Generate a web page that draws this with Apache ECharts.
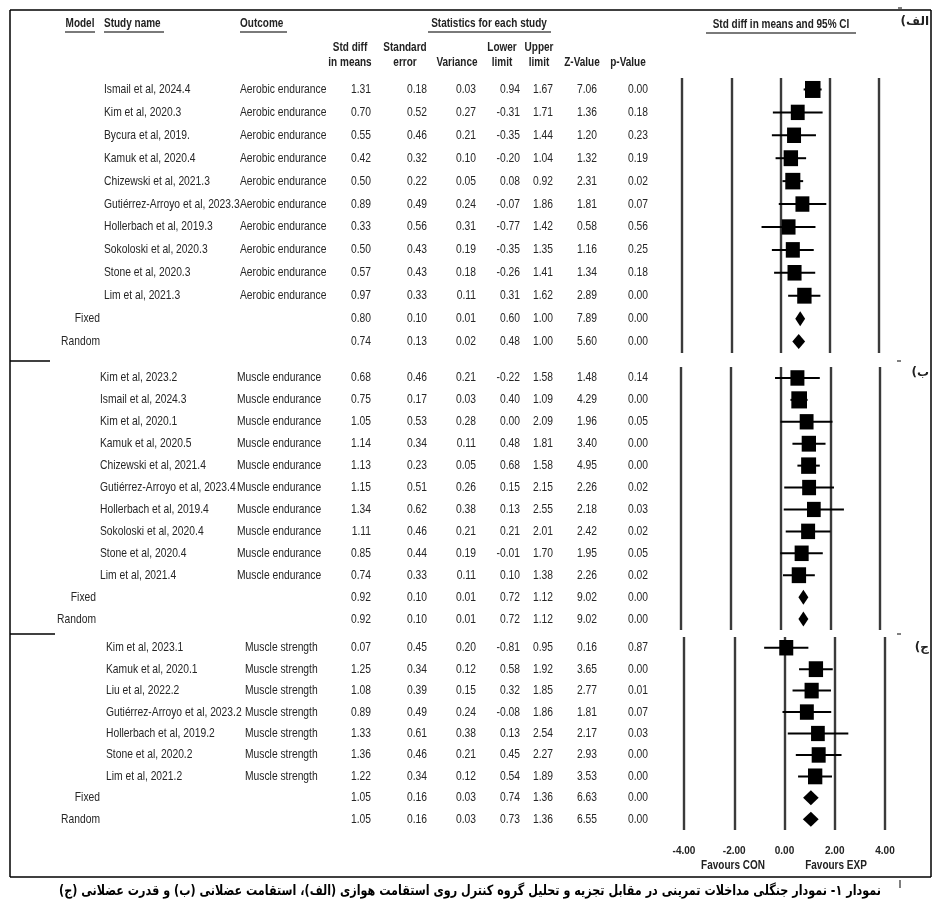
<!DOCTYPE html>
<html><head><meta charset="utf-8">
<script src="https://cdn.jsdelivr.net/npm/echarts@6/dist/echarts.min.js"></script>
<style>html,body{margin:0;padding:0;background:#fff}#c{width:947px;height:908px}</style>
</head><body><div id="c"></div>
<script>
// ---------- DATA ----------
const modelNames = ['Fixed', 'Random'];

// Panel (الف) Aerobic endurance
const studiesA = ['Ismail et al, 2024.4','Kim et al, 2020.3','Bycura et al, 2019.','Kamuk et al, 2020.4','Chizewski et al, 2021.3','Gutiérrez-Arroyo et al, 2023.3','Hollerbach et al, 2019.3','Sokoloski et al, 2020.3','Stone et al, 2020.3','Lim et al, 2021.3'];
const outcomeA = 'Aerobic endurance';
const smdA = [1.31,0.70,0.55,0.42,0.50,0.89,0.33,0.50,0.57,0.97, 0.80,0.74];
const seA  = [0.18,0.52,0.46,0.32,0.22,0.49,0.56,0.43,0.43,0.33, 0.10,0.13];
const varA = [0.03,0.27,0.21,0.10,0.05,0.24,0.31,0.19,0.18,0.11, 0.01,0.02];
const lowA = [0.94,-0.31,-0.35,-0.20,0.08,-0.07,-0.77,-0.35,-0.26,0.31, 0.60,0.48];
const upA  = [1.67,1.71,1.44,1.04,0.92,1.86,1.42,1.35,1.41,1.62, 1.00,1.00];
const zA   = [7.06,1.36,1.20,1.32,2.31,1.81,0.58,1.16,1.34,2.89, 7.89,5.60];
const pA   = [0.00,0.18,0.23,0.19,0.02,0.07,0.56,0.25,0.18,0.00, 0.00,0.00];

// Panel (ب) Muscle endurance
const studiesB = ['Kim et al, 2023.2','Ismail et al, 2024.3','Kim et al, 2020.1','Kamuk et al, 2020.5','Chizewski et al, 2021.4','Gutiérrez-Arroyo et al, 2023.4','Hollerbach et al, 2019.4','Sokoloski et al, 2020.4','Stone et al, 2020.4','Lim et al, 2021.4'];
const outcomeB = 'Muscle endurance';
const smdB = [0.68,0.75,1.05,1.14,1.13,1.15,1.34,1.11,0.85,0.74, 0.92,0.92];
const seB  = [0.46,0.17,0.53,0.34,0.23,0.51,0.62,0.46,0.44,0.33, 0.10,0.10];
const varB = [0.21,0.03,0.28,0.11,0.05,0.26,0.38,0.21,0.19,0.11, 0.01,0.01];
const lowB = [-0.22,0.40,0.00,0.48,0.68,0.15,0.13,0.21,-0.01,0.10, 0.72,0.72];
const upB  = [1.58,1.09,2.09,1.81,1.58,2.15,2.55,2.01,1.70,1.38, 1.12,1.12];
const zB   = [1.48,4.29,1.96,3.40,4.95,2.26,2.18,2.42,1.95,2.26, 9.02,9.02];
const pB   = [0.14,0.00,0.05,0.00,0.00,0.02,0.03,0.02,0.05,0.02, 0.00,0.00];

// Panel (ج) Muscle strength
const studiesC = ['Kim et al, 2023.1','Kamuk et al, 2020.1','Liu et al, 2022.2','Gutiérrez-Arroyo et al, 2023.2','Hollerbach et al, 2019.2','Stone et al, 2020.2','Lim et al, 2021.2'];
const outcomeC = 'Muscle strength';
const smdC = [0.07,1.25,1.08,0.89,1.33,1.36,1.22, 1.05,1.05];
const seC  = [0.45,0.34,0.39,0.49,0.61,0.46,0.34, 0.16,0.16];
const varC = [0.20,0.12,0.15,0.24,0.38,0.21,0.12, 0.03,0.03];
const lowC = [-0.81,0.58,0.32,-0.08,0.13,0.45,0.54, 0.74,0.73];
const upC  = [0.95,1.92,1.85,1.86,2.54,2.27,1.89, 1.36,1.36];
const zC   = [0.16,3.65,2.77,1.81,2.17,2.93,3.53, 6.63,6.55];
const pC   = [0.87,0.00,0.01,0.07,0.03,0.00,0.00, 0.00,0.00];

const axisTicks = [-4, -2, 0, 2, 4];
const favourLabels = ['Favours CON', 'Favours EXP'];
const panelLabels = ['(الف', '(ب', '(ج'];
const headerTop = ['Model', 'Study name', 'Outcome', 'Statistics for each study', 'Std diff in means and 95% CI'];
const subHeaders = [['Std diff','in means'],['Standard','error'],['','Variance'],['Lower','limit'],['Upper','limit'],['','Z-Value'],['','p-Value']];
const caption = 'نمودار ۱- نمودار جنگلی مداخلات تمرینی در مقابل تجزیه و تحلیل گروه کنترل روی استقامت هوازی (الف)، استقامت عضلانی (ب) و قدرت عضلانی (ج)';

// ---------- FONTS ----------
const FAM = "'Liberation Sans', Arial, sans-serif";
const BODY = 10.3;
const HEAD = 10;
const SY = 1.22;          // vertical stretch of the table text
const TXT = '#262626';

// ---------- LAYOUT ----------
const cols = [371, 427, 476, 520, 553, 597, 648];   // right edges of number columns
const headCenters = [350, 405, 457, 502, 539, 582, 628];

const panels = [
  {names: studiesA, outcome: outcomeA, vals: [smdA, seA, varA, lowA, upA, zA, pA], top: 78, height: 275, fl: 682, fr: 879, nameX: 104, outX: 240, modelX: 100, labelY: 22},
  {names: studiesB, outcome: outcomeB, vals: [smdB, seB, varB, lowB, upB, zB, pB], top: 367, height: 263, fl: 681, fr: 880, nameX: 100, outX: 237, modelX: 96, labelY: 373},
  {names: studiesC, outcome: outcomeC, vals: [smdC, seC, varC, lowC, upC, zC, pC], top: 637, height: 193, fl: 684, fr: 885, nameX: 106, outX: 245, modelX: 100, labelY: 648}
];

const W = 947;
const grid = [], xAxis = [], yAxis = [], series = [];

function txt(x, y, text, align){
  return {type: 'text', x: x, y: y, scaleY: SY, style: {text: text, align: align, verticalAlign: 'middle', fontFamily: FAM, fontSize: BODY, fill: TXT}};
}

panels.forEach((P, k) => {
  const rows = P.names.concat(modelNames);
  const nS = P.names.length;
  // table grid
  grid.push({left: 0, right: 0, top: P.top, height: P.height});
  xAxis.push({gridIndex: 2*k, type: 'value', min: 0, max: W, show: false});
  yAxis.push({gridIndex: 2*k, type: 'category', data: rows, inverse: true, show: false});
  // forest grid
  grid.push({left: P.fl, width: P.fr - P.fl, top: P.top, height: P.height});
  const last = k === panels.length - 1;
  xAxis.push({gridIndex: 2*k+1, type: 'value', min: axisTicks[0], max: axisTicks[axisTicks.length-1], interval: 2,
    axisLine: {show: false}, axisTick: {show: false},
    splitLine: {show: true, lineStyle: {color: '#3a3a3a', width: 2.4}},
    axisLabel: {show: last, margin: 16, fontFamily: FAM, fontWeight: 'bold', fontSize: HEAD, color: '#222', formatter: v => v.toFixed(2)}
  });
  yAxis.push({gridIndex: 2*k+1, type: 'category', data: rows, inverse: true, show: false});

  // table text
  series.push({
    type: 'custom', xAxisIndex: 2*k, yAxisIndex: 2*k, silent: true,
    data: rows.map((r, i) => [0, i]), encode: {x: 0, y: 1},
    renderItem: (params, api) => {
      const i = params.dataIndex;
      const y = api.coord([0, i])[1];
      const kids = [];
      if (i < nS) {
        kids.push(txt(api.coord([P.nameX, i])[0], y, P.names[i], 'left'));
        kids.push(txt(api.coord([P.outX, i])[0], y, P.outcome, 'left'));
      } else {
        kids.push(txt(api.coord([P.modelX, i])[0], y, modelNames[i - nS], 'right'));
      }
      P.vals.forEach((arr, c) => {
        kids.push(txt(api.coord([cols[c], i])[0], y, arr[i].toFixed(2), 'right'));
      });
      return {type: 'group', children: kids};
    }
  });

  // forest marks
  const [smd, se, , lo, up] = P.vals;
  series.push({
    type: 'custom', xAxisIndex: 2*k+1, yAxisIndex: 2*k+1, silent: true,
    data: smd.map((v, i) => [lo[i], up[i], v, i, se[i]]), encode: {x: [0, 1, 2], y: 3},
    renderItem: (params, api) => {
      const i = params.dataIndex;
      const a = api.coord([api.value(0), i]);
      const b = api.coord([api.value(1), i]);
      const c = api.coord([api.value(2), i]);
      if (i < nS) {
        const w = Math.min(16.5, 13 + 0.45 / api.value(4));
        const h = w + 1.5;
        return {type: 'group', children: [
          {type: 'line', shape: {x1: a[0], y1: a[1], x2: b[0], y2: b[1]}, style: {stroke: '#000', lineWidth: 2}},
          {type: 'rect', shape: {x: c[0] - w/2, y: c[1] - h/2, width: w, height: h}, style: {fill: '#000'}}
        ]};
      }
      const hh = 7.5;
      return {type: 'polygon', shape: {points: [[a[0], a[1]], [c[0], c[1] - hh], [b[0], b[1]], [c[0], c[1] + hh]]}, style: {fill: '#000'}};
    }
  });
});

// ---------- GRAPHIC (frame, headers, captions) ----------
const G = [];
const L = (x1, y1, x2, y2, w, col) => G.push({type: 'line', shape: {x1, y1, x2, y2}, style: {stroke: col || '#000', lineWidth: w || 1.5}, silent: true});
const T = (x, y, text, align, o, sy) => G.push({type: 'text', x, y, scaleY: sy || SY, silent: true, style: Object.assign({text, align, verticalAlign: 'middle', fontFamily: FAM, fontSize: HEAD, fontWeight: 'bold', fill: '#222'}, o || {})});

// frame
L(10, 10, 931, 10); L(10, 10, 10, 877); L(931, 10, 931, 877); L(10, 877, 931, 877);
L(10, 361, 50, 361, 1.5); L(10, 634, 55, 634, 1.5);
L(897, 361, 901, 361, 1); L(897, 634, 901, 634, 1); L(898, 8, 902, 8, 1); L(900, 880, 900, 888, 1);

// header
T(80, 24, headerTop[0], 'center');
T(104, 24, headerTop[1], 'left');
T(240, 24, headerTop[2], 'left');
T(489, 24, headerTop[3], 'center');
T(781, 25, headerTop[4], 'center');
L(65, 32, 95, 32, 2, '#7a7a7a'); L(104, 32, 164, 32, 2, '#7a7a7a'); L(240, 32, 287, 32, 2, '#7a7a7a');
L(428, 32, 551, 32, 2, '#7a7a7a'); L(706, 33, 856, 33, 2, '#7a7a7a');
subHeaders.forEach((s, i) => { if (s[0]) T(headCenters[i], 48, s[0], 'center'); T(headCenters[i], 63, s[1], 'center'); });

// favours
T(733, 866, favourLabels[0], 'center');
T(836, 866, favourLabels[1], 'center');

// panel labels
panels.forEach((P, k) => T(929, P.labelY, panelLabels[k], 'right', {fontFamily: "'DejaVu Sans', sans-serif", fontSize: 12}, 1));

// caption
T(470, 891, '\u200F' + caption + '\u200F', 'center', {fontFamily: "'DejaVu Sans', sans-serif", fontSize: 11.2, fill: '#000'}, 1.25);

const chart = echarts.init(document.getElementById('c'), null, {renderer: 'canvas'});
chart.setOption({
  backgroundColor: '#fff',
  animation: false,
  grid, xAxis, yAxis, series,
  graphic: {elements: G}
});
</script></body></html>
